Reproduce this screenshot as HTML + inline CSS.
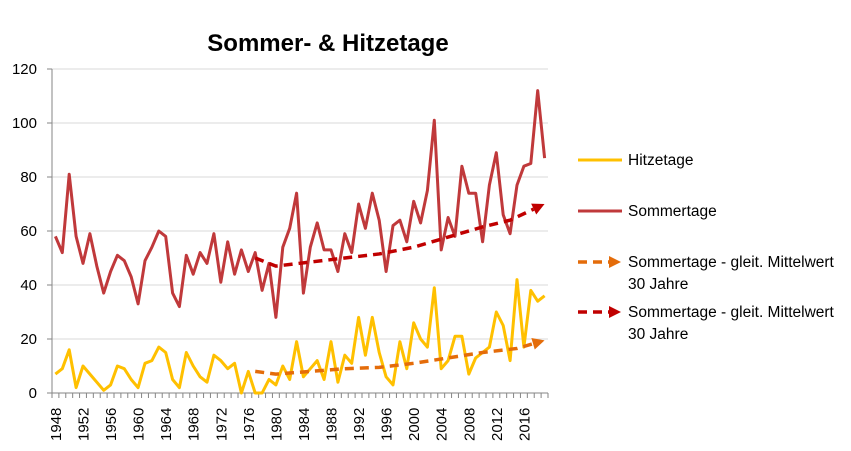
<!DOCTYPE html>
<html><head><meta charset="utf-8"><style>
html,body{margin:0;padding:0;background:#fff}
svg{display:block;font-family:"Liberation Sans","DejaVu Sans",sans-serif}
</style></head><body>
<svg id="s" width="851" height="451" viewBox="0 0 851 451" xmlns="http://www.w3.org/2000/svg">
<rect width="851" height="451" fill="#fff"/>
<text x="328" y="51" text-anchor="middle" font-size="24" font-weight="bold" fill="#000">Sommer- &amp; Hitzetage</text>
<g id="grid"></g>
<g id="data"></g>
<g font-size="15.5" fill="#000">
<line x1="578" y1="160" x2="622" y2="160" stroke="#FFC000" stroke-width="3"/>
<text x="628" y="165">Hitzetage</text>
<line x1="578" y1="211" x2="622" y2="211" stroke="#C0393B" stroke-width="3"/>
<text x="628" y="216">Sommertage</text>
<line x1="578" y1="262" x2="610" y2="262" stroke="#E46C0A" stroke-width="3.5" stroke-dasharray="9,6"/>
<polygon points="609,256 621,262 609,268" fill="#E46C0A"/>
<text x="628" y="267">Sommertage - gleit. Mittelwert</text>
<text x="628" y="289">30 Jahre</text>
<line x1="578" y1="312" x2="610" y2="312" stroke="#C00000" stroke-width="3.5" stroke-dasharray="9,6"/>
<polygon points="609,306 621,312 609,318" fill="#C00000"/>
<text x="628" y="317">Sommertage - gleit. Mittelwert</text>
<text x="628" y="339">30 Jahre</text>
</g>
</svg>
<script>
var NS="http://www.w3.org/2000/svg";
function el(p,t,a,txt){var e=document.createElementNS(NS,t);for(var k in a)e.setAttribute(k,a[k]);if(txt!=null)e.textContent=txt;p.appendChild(e);return e;}
var g=document.getElementById('grid'),d=document.getElementById('data');
var X0=52,X1=548,N=72,W=(X1-X0)/N;
function X(i){return X0+W*(i+0.5);}
function Y(v){return 393-v*2.7;}
for(var v=0;v<=120;v+=20){
 if(v>0)el(g,'line',{x1:X0,x2:X1,y1:Y(v),y2:Y(v),stroke:'#d9d9d9','stroke-width':1});
 el(g,'line',{x1:X0-5,x2:X0,y1:Y(v),y2:Y(v),stroke:'#868686'});
 el(g,'text',{x:37,y:Y(v)+5,'text-anchor':'end','font-size':15,fill:'#000'},v);
}
el(g,'line',{x1:X0,x2:X0,y1:Y(120),y2:393,stroke:'#868686'});
el(g,'line',{x1:X0,x2:X1,y1:393,y2:393,stroke:'#868686'});
for(var i=0;i<=N;i++){var x=X0+W*i;el(g,'line',{x1:x,x2:x,y1:393,y2:398,stroke:'#868686'});}
for(var i=0;i<N;i+=4){var x=X(i)+5.5;el(g,'text',{transform:'translate('+x+',441) rotate(-90)','font-size':15,fill:'#000'},1948+i);}
var S=[58,52,81,58,48,59,47,37,45,51,49,43,33,49,54,60,58,37,32,51,44,52,48,59,41,56,44,53,45,52,38,48,28,54,61,74,37,54,63,53,53,45,59,52,70,61,74,64,45,62,64,56,71,63,75,101,53,65,58,84,74,74,56,77,89,66,59,77,84,85,112,87];
var H=[7,9,16,2,10,7,4,1,3,10,9,5,2,11,12,17,15,5,2,15,10,6,4,14,12,9,11,0,8,0,0,5,3,10,5,19,6,9,12,5,19,4,14,11,28,14,28,15,6,3,19,9,26,20,17,39,9,12,21,21,7,13,15,17,30,25,12,42,17,38,34,36];
function pts(a){return a.map(function(v,i){return X(i).toFixed(1)+','+Y(v).toFixed(1)}).join(' ');}
el(d,'polyline',{points:pts(S),fill:'none',stroke:'#C0393B','stroke-width':3,'stroke-linejoin':'round'});
el(d,'polyline',{points:pts(H),fill:'none',stroke:'#FFC000','stroke-width':3,'stroke-linejoin':'round'});
function trend(keys,color){
 var p=keys.map(function(k){return [X(k[0]-1948),Y(k[1])]});
 var last=p[p.length-1],prev=p[p.length-2];
 var dx=last[0]-prev[0],dy=last[1]-prev[1],L=Math.hypot(dx,dy);dx/=L;dy/=L;
 var bx=last[0]-dx*12,by=last[1]-dy*12;
 var q=p.slice(0,-1).concat([[bx,by]]);
 el(d,'polyline',{points:q.map(function(a){return a.join(',')}).join(' '),fill:'none',stroke:color,'stroke-width':3.5,'stroke-dasharray':'9,6'});
 el(d,'polygon',{points:[last[0]+','+last[1],(bx-dy*6)+','+(by+dx*6),(bx+dy*6)+','+(by-dx*6)].join(' '),fill:color});
}
trend([[1977,50],[1980,47],[1985,48.5],[1990,50],[1995,51.5],[2000,54],[2004,57],[2010,61.5],[2014,64],[2019,70]],'#C00000');
trend([[1977,8],[1980,7],[1985,8],[1990,9],[1995,9.5],[2000,11],[2005,13],[2010,15],[2015,16.5],[2019,19.5]],'#E46C0A');
</script>
</body></html>
